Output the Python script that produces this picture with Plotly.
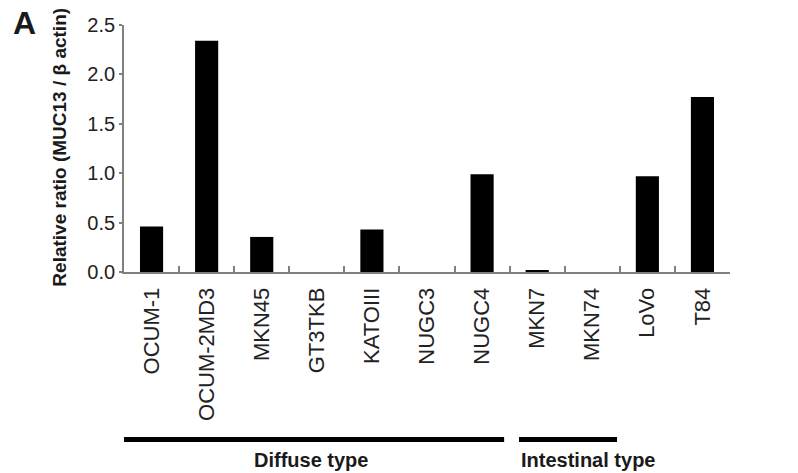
import plotly.graph_objects as go

cell_lines = ["OCUM-1", "OCUM-2MD3", "MKN45", "GT3TKB", "KATOIII", "NUGC3",
              "NUGC4", "MKN7", "MKN74", "LoVo", "T84"]
ratio = [0.46, 2.34, 0.355, 0.0, 0.43, 0.0, 0.99, 0.015, 0.0, 0.97, 1.77]
y_ticks = [0.0, 0.5, 1.0, 1.5, 2.0, 2.5]
y_tick_labels = ["0.0", "0.5", "1.0", "1.5", "2.0", "2.5"]

group_names = ["Diffuse type", "Intestinal type"]
group_first = ["OCUM-1", "MKN7"]
group_last = ["NUGC4", "MKN74"]

FONT = "Liberation Sans, Arial, sans-serif"

L, T, PW, PH = 124, 25, 606, 246.7

fig = go.Figure()
fig.add_trace(go.Bar(x=cell_lines, y=ratio, marker=dict(color="black", line=dict(width=0)),
                     width=0.42))

# group bracket lines and labels (layout decorations)
pads = [(-0.6, 0.4), (-0.33, 0.45)]
anchors = ["center", "left"]
for name, first, last, (pl, pr), anc in zip(group_names, group_first, group_last, pads, anchors):
    i0 = cell_lines.index(first) + pl
    i1 = cell_lines.index(last) + pr
    fig.add_shape(type="line", xref="x", yref="paper", x0=i0, x1=i1, y0=-0.678, y1=-0.678,
                  line=dict(color="black", width=5))
    xt = (i0 + i1) / 2 if anc == "center" else i0
    fig.add_annotation(x=xt, y=-0.762, xref="x", yref="paper", text="<b>%s</b>" % name,
                       showarrow=False, xanchor=anc, yanchor="middle",
                       font=dict(family=FONT, size=20, color="#1a1a1a"))

fig.add_annotation(x=(24 - L) / PW, y=(T + PH - 23.5) / PH, xref="paper", yref="paper",
                   text="<b>A</b>", showarrow=False,
                   font=dict(family=FONT, size=32, color="#1a1a1a"), xanchor="center", yanchor="middle")

fig.add_annotation(x=(60 - L) / PW, y=(T + PH - 147.5) / PH, xref="paper", yref="paper",
                   text="<b>Relative ratio (MUC13 / β actin)</b>", textangle=-90, showarrow=False,
                   font=dict(family=FONT, size=19, color="#1a1a1a"), xanchor="center", yanchor="middle")

fig.update_layout(
    width=798, height=473,
    margin=dict(l=L, r=798 - L - PW, t=T, b=473 - T - PH),
    paper_bgcolor="white", plot_bgcolor="white",
    showlegend=False,
    font=dict(family=FONT, color="#222222"),
    xaxis=dict(
        type="category", range=[-0.5, 10.5], tickangle=-90,
        tickson="boundaries", ticks="inside", ticklen=6, tickcolor="#808080", tickwidth=1.5,
        showline=True, linecolor="#808080", linewidth=1.8, showgrid=False,
        tickfont=dict(family=FONT, size=22, color="#222222"),
        ticklabelstandoff=5,
    ),
    yaxis=dict(
        range=[0, 2.5], tickvals=y_ticks, ticktext=y_tick_labels,
        ticks="outside", ticklen=3, tickcolor="#808080", tickwidth=1.5,
        showline=True, linecolor="#808080", linewidth=1.8, showgrid=False, zeroline=False,
        tickfont=dict(family=FONT, size=20, color="#222222"),
    ),
)

fig.write_html("out.html", config={"displayModeBar": False},
               post_script="document.body.style.margin='0';document.body.style.overflow='hidden';")
